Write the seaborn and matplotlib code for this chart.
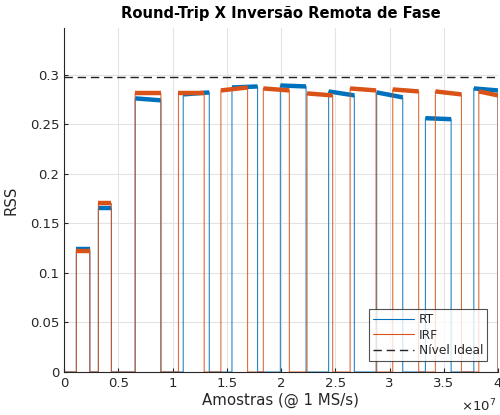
import numpy as np
import pandas as pd
import matplotlib
matplotlib.use('Agg')
import matplotlib.pyplot as plt
import seaborn as sns
from matplotlib.ticker import FuncFormatter, MultipleLocator

# Pulse edges in units of 1e6 samples, and plateau levels (start, end) in RSS
rt_on = [1.14, 3.17, 6.56, 10.99, 15.48, 19.94, 24.39, 28.82, 33.31, 37.77]
rt_off = [2.38, 4.37, 8.93, 13.39, 17.84, 22.31, 26.76, 31.22, 35.68, 40.0]
rt_lvl_start = [0.124, 0.165, 0.276, 0.280, 0.287, 0.289, 0.283, 0.282, 0.256, 0.286]
rt_lvl_end = [0.124, 0.165, 0.274, 0.282, 0.288, 0.288, 0.279, 0.277, 0.255, 0.284]

irf_on = [1.14, 3.17, 6.56, 10.55, 14.46, 18.37, 22.40, 26.37, 30.30, 34.23, 38.23]
irf_off = [2.38, 4.37, 8.93, 12.92, 16.92, 20.77, 24.76, 28.76, 32.69, 36.63, 40.0]
irf_lvl_start = [0.122, 0.170, 0.281, 0.281, 0.284, 0.286, 0.281, 0.286, 0.285, 0.283, 0.283]
irf_lvl_end = [0.122, 0.170, 0.281, 0.281, 0.287, 0.284, 0.279, 0.284, 0.283, 0.280, 0.279]

ideal_level = 0.298
x_ticks = [0, 0.5, 1, 1.5, 2, 2.5, 3, 3.5, 4]  # x 1e7

blue = '#0072BD'
orange = '#D95319'
axcol = '#262626'


def step_frame(on, off, lvl_a, lvl_b):
    xs, ys = [0.0], [0.0]
    for a, b, la, lb in zip(on, off, lvl_a, lvl_b):
        xs += [a, a, b, b]
        ys += [0.0, la, lb, 0.0]
    return pd.DataFrame({'x': np.array(xs) * 1e6, 'y': ys})


rt_df = step_frame(rt_on, rt_off, rt_lvl_start, rt_lvl_end)
irf_df = step_frame(irf_on, irf_off, irf_lvl_start, irf_lvl_end)

sns.set_style('white')
plt.rcParams['font.family'] = ['DejaVu Sans']

fig = plt.figure(figsize=(5, 4.15), dpi=100)
ax = fig.add_axes([0.128, 0.1036, 0.868, 0.829])

for df, on, off, la, lb, col, lab in [
        (rt_df, rt_on, rt_off, rt_lvl_start, rt_lvl_end, blue, 'RT'),
        (irf_df, irf_on, irf_off, irf_lvl_start, irf_lvl_end, orange, 'IRF')]:
    sns.lineplot(data=df, x='x', y='y', ax=ax, color=col, lw=0.8, alpha=0.85,
                 sort=False, estimator=None, label=lab)
    # noisy plateau band
    for a, b, ya, yb in zip(on, off, la, lb):
        ax.plot([a * 1e6, b * 1e6], [ya, yb], color=col, lw=3.2,
                solid_capstyle='butt')

ax.axhline(ideal_level, color='#222222', ls='--', lw=1.0, dashes=(6, 3.5),
           label='Nível Ideal')

ax.set_xlim(0, 4e7)
ax.set_ylim(0, 0.347)
ax.set_xticks([t * 1e7 for t in x_ticks])
ax.xaxis.set_major_formatter(FuncFormatter(lambda v, p: f'{v / 1e7:g}'))
ax.yaxis.set_major_locator(MultipleLocator(0.05))
ax.yaxis.set_major_formatter(FuncFormatter(lambda v, p: f'{v:g}'))
ax.text(0.995, -0.1, r'$\times10^{7}$', transform=ax.transAxes,
        ha='right', va='center', fontsize=9.5, color=axcol)

ax.grid(True, color='#e3e3e3', lw=0.8)
ax.set_axisbelow(True)
for s in ['top', 'right']:
    ax.spines[s].set_visible(False)
for s in ['left', 'bottom']:
    ax.spines[s].set_color(axcol)
    ax.spines[s].set_linewidth(0.8)
ax.tick_params(direction='in', length=3, width=0.8, colors=axcol,
               labelsize=9.5, left=True, bottom=True)

ax.set_title('Round-Trip X Inversão Remota de Fase', fontsize=10.6,
             fontweight='bold', color='black', pad=7)
ax.set_xlabel('Amostras (@ 1 MS/s)', fontsize=10.8, color=axcol, labelpad=2)
ax.set_ylabel('RSS', fontsize=10.8, color=axcol, labelpad=8)

leg = ax.legend(loc='lower right', bbox_to_anchor=(0.975, 0.032),
                borderaxespad=0, fontsize=8.8, frameon=True, fancybox=False,
                edgecolor=axcol, handlelength=3.4, labelspacing=0.22,
                borderpad=0.3, handletextpad=0.4)
leg.get_frame().set_linewidth(0.8)
for h in leg.get_lines():
    h.set_alpha(1)

fig.savefig('out.png', dpi=100)
